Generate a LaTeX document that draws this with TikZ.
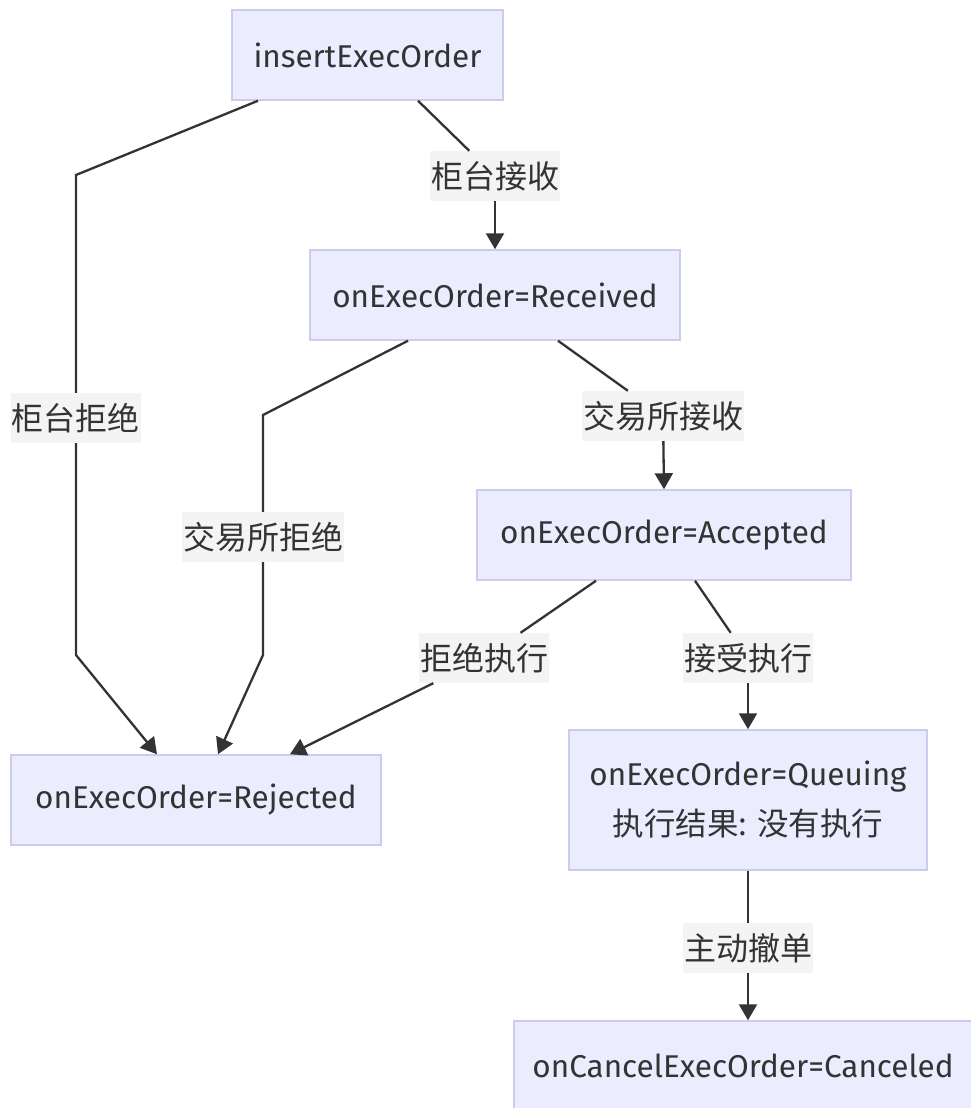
\documentclass[tikz,border=0pt]{standalone}
\usepackage{fontspec}
\setmainfont{Fira Sans}
\newfontfamily\cjk{Noto Sans CJK SC}
\usetikzlibrary{arrows.meta}
\definecolor{nodefill}{HTML}{ECECFF}
\definecolor{nodeline}{HTML}{CCCCEE}
\definecolor{lblfill}{HTML}{F4F4F4}
\definecolor{ink}{HTML}{333333}
\tikzset{
  statebox/.style={draw=nodeline, line width=1.5pt, fill=nodefill, text=ink, font=\fontsize{31.5}{50}\selectfont, inner sep=0pt, align=center},
  lbl/.style={fill=lblfill, text=ink, font=\cjk\fontsize{32}{36}\selectfont, inner sep=1pt, minimum height=50pt},
  conn/.style={draw=ink, line width=2.3pt},
  arr/.style={conn, -{Triangle[width=18pt,length=16pt]}}
}
\begin{document}
\begin{tikzpicture}[x=1pt,y=-1pt]
\useasboundingbox (0,0) rectangle (971,1108);
% nodes
\node[statebox, minimum width=271pt, minimum height=90pt] (ins) at (367.5,55) {insertExecOrder};
\node[statebox, minimum width=370pt, minimum height=90pt] (rec) at (495,295) {onExecOrder=Received};
\node[statebox, minimum width=374pt, minimum height=90pt] (acc) at (664,535) {onExecOrder=Accepted};
\node[statebox, minimum width=370pt, minimum height=90pt] (rej) at (196,800) {onExecOrder=Rejected};
\node[statebox, minimum width=358pt, minimum height=140pt] (que) at (748,800) {onExecOrder=Queuing\\{\cjk 执行结果: 没有执行}};
\node[statebox, minimum width=458pt, minimum height=90pt] (can) at (743,1066) {onCancelExecOrder=Canceled};
% labels
\node[lbl] (l1) at (76,418) {柜台拒绝};
\node[lbl] (l2) at (495,176) {柜台接收};
\node[lbl] (l3) at (263,537) {交易所拒绝};
\node[lbl] (l4) at (663,416) {交易所接收};
\node[lbl] (l5) at (484,658) {拒绝执行};
\node[lbl] (l6) at (748,658) {接受执行};
\node[lbl] (l7) at (748,948) {主动撤单};
% bend points
\coordinate (b1a) at (76,175);
\coordinate (b1b) at (76,655);
\coordinate (b3a) at (263,415);
\coordinate (b3b) at (263,655);
% connectors
\draw[conn] ([xshift=-109.5pt]ins.south) -- (b1a) -- (l1);
\draw[arr] (l1) -- (b1b) -- ([xshift=-39pt]rej.north);
\draw[conn] ([xshift=50.5pt]ins.south) -- (l2);
\draw[arr] (l2) -- (rec.north);
\draw[conn] ([xshift=-87pt]rec.south) -- (b3a) -- (l3);
\draw[arr] (l3) -- (b3b) -- ([xshift=22pt]rej.north);
\draw[conn] ([xshift=63pt]rec.south) -- (l4);
\draw[arr] (l4) -- (acc.north);
\draw[conn] ([xshift=-68pt]acc.south) -- (l5);
\draw[arr] (l5) -- ([xshift=94pt]rej.north);
\draw[conn] ([xshift=31pt]acc.south) -- (l6);
\draw[arr] (l6) -- (que.north);
\draw[conn] (que.south) -- (l7);
\draw[arr] (l7) -- (que.south |- can.north);
\end{tikzpicture}
\end{document}
